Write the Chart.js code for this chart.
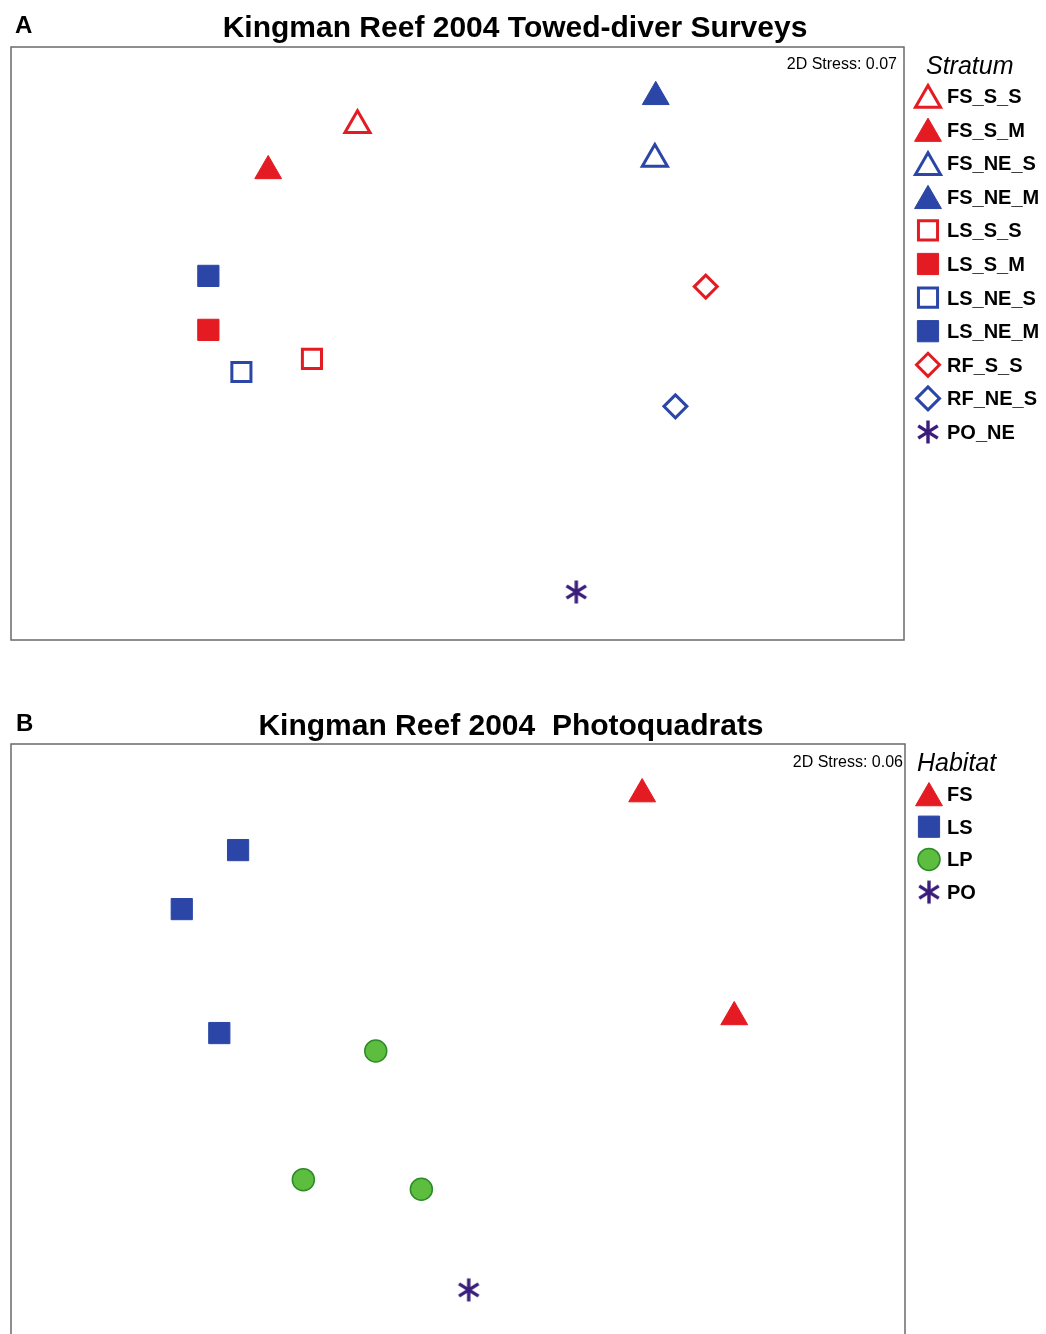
<!DOCTYPE html>
<html>
<head>
<meta charset="utf-8">
<title>Kingman Reef 2004 nMDS ordinations</title>
<script src="https://cdn.jsdelivr.net/npm/chart.js@4/dist/chart.umd.min.js"></script>
<style>
  html, body { margin: 0; padding: 0; background: #fff; width: 1046px; height: 1334px; overflow: hidden; }
  #page { position: relative; width: 1046px; height: 1334px; overflow: hidden; }
  .panel { position: absolute; left: 0; width: 1046px; height: 660px; }
  #panelA { top: 0; }
  #panelB { top: 690px; }
</style>
</head>
<body>
<div id="page">
  <div class="panel" id="panelA"><canvas id="chartA" width="1046" height="660"></canvas></div>
  <div class="panel" id="panelB"><canvas id="chartB" width="1046" height="660"></canvas></div>
</div>
<script>
// ---- Panel A: towed-diver surveys, one point per stratum (nMDS axis 1 / axis 2) ----
const strataA = ['FS_S_S', 'FS_S_M', 'FS_NE_S', 'FS_NE_M', 'LS_S_S', 'LS_S_M', 'LS_NE_S', 'LS_NE_M', 'RF_S_S', 'RF_NE_S', 'PO_NE'];
const mds1A   = [38.8, 28.8, 72.1, 72.2, 33.7, 22.1, 25.8, 22.1, 77.8, 74.4, 63.3];
const mds2A   = [86.8, 79.1, 81.1, 91.6, 47.4, 52.3, 45.2, 61.4, 59.6, 39.4,  8.1];

// ---- Panel B: photoquadrats, points grouped by habitat ----
const habitatsB = ['FS', 'LS', 'LP', 'PO'];
const siteHabitatB = ['FS', 'FS', 'LS', 'LS', 'LS', 'LP', 'LP', 'LP', 'PO'];
const mds1B = [70.6, 80.9, 25.4, 19.1, 23.3, 40.8, 32.7, 45.9, 51.2];
const mds2B = [91.6, 54.2, 82.2, 72.3, 51.5, 48.5, 26.9, 25.3,  8.4];

// ---- colours and marker shapes ----
const RED = '#e41b22';
const BLUE = '#2b46a6';
const PURPLE = '#3b1d7c';
const GREEN = '#5dbd3e';
const GREEN_EDGE = '#2f8a2a';

// six-armed asterisk used for the PO stratum / habitat
const asterisk = (() => {
  const c = document.createElement('canvas');
  c.width = 28; c.height = 28;
  const g = c.getContext('2d');
  g.strokeStyle = PURPLE;
  g.lineWidth = 3.4;
  const cx = 14, cy = 14, L = 11.5;
  [90, 32, -32].forEach(deg => {
    const r = deg * Math.PI / 180;
    g.beginPath();
    g.moveTo(cx - L * Math.cos(r), cy - L * Math.sin(r));
    g.lineTo(cx + L * Math.cos(r), cy + L * Math.sin(r));
    g.stroke();
  });
  return c;
})();

const openTri   = c => ({ pointStyle: 'triangle', radius: 14.5, bg: '#ffffff', border: c, bw: 3,   dy: 4 });
const fillTri   = c => ({ pointStyle: 'triangle', radius: 15.5, bg: c,         border: c, bw: 1,   dy: 4 });
const openRect  = c => ({ pointStyle: 'rect',     radius: 13.5, bg: '#ffffff', border: c, bw: 3,   dy: 0 });
const fillRect  = c => ({ pointStyle: 'rect',     radius: 15,   bg: c,         border: c, bw: 1,   dy: 0 });
const openDiam  = c => ({ pointStyle: 'rectRot',  radius: 11.5, bg: '#ffffff', border: c, bw: 3,   dy: 0 });
const star      = () => ({ pointStyle: asterisk,  radius: 12,   bg: PURPLE,    border: PURPLE, bw: 0, dy: 0 });
const dot       = () => ({ pointStyle: 'circle',  radius: 11,   bg: GREEN,     border: GREEN_EDGE, bw: 1.5, dy: 0 });

const stylesA = {
  FS_S_S: openTri(RED),  FS_S_M: fillTri(RED),  FS_NE_S: openTri(BLUE), FS_NE_M: fillTri(BLUE),
  LS_S_S: openRect(RED), LS_S_M: fillRect(RED), LS_NE_S: openRect(BLUE), LS_NE_M: fillRect(BLUE),
  RF_S_S: openDiam(RED), RF_NE_S: openDiam(BLUE), PO_NE: star()
};
const stylesB = { FS: fillTri(RED), LS: fillRect(BLUE), LP: dot(), PO: star() };

function makeDataset(label, points, st) {
  return {
    label,
    data: points,
    pointStyle: st.pointStyle,
    pointRadius: st.radius,
    pointHoverRadius: st.radius,
    pointBackgroundColor: st.bg,
    pointBorderColor: st.border,
    pointBorderWidth: st.bw,
    pointHoverBorderWidth: st.bw,
    legendDy: st.dy,
    showLine: false
  };
}

const datasetsA = strataA.map((s, i) => makeDataset(s, [{ x: mds1A[i], y: mds2A[i] }], stylesA[s]));
const datasetsB = habitatsB.map(h => {
  const pts = [];
  siteHabitatB.forEach((hb, i) => { if (hb === h) pts.push({ x: mds1B[i], y: mds2B[i] }); });
  return makeDataset(h, pts, stylesB[h]);
});

// Frame, panel letter, title, stress value and the legend column
const panelDecor = {
  id: 'panelDecor',
  afterDraw(chart, args, o) {
    const ctx = chart.ctx;
    const a = chart.chartArea;
    ctx.save();
    // plot frame
    ctx.strokeStyle = '#6a6a6a';
    ctx.lineWidth = 1.5;
    ctx.strokeRect(a.left, a.top, a.right - a.left, a.bottom - a.top);

    ctx.fillStyle = '#000';
    ctx.textBaseline = 'alphabetic';
    // panel letter
    ctx.font = 'bold 24px "Liberation Sans", Arial, sans-serif';
    ctx.textAlign = 'left';
    ctx.fillText(o.letter, o.letterX, o.letterY);
    // title
    ctx.font = 'bold 30px "Liberation Sans", Arial, sans-serif';
    ctx.textAlign = 'center';
    ctx.fillText(o.title, o.titleX, o.titleY);
    // stress
    ctx.font = '16px "Liberation Sans", Arial, sans-serif';
    ctx.textAlign = 'right';
    ctx.fillText(o.stress, o.stressX, o.stressY);
    // legend heading
    ctx.font = 'italic 25px "Liberation Sans", Arial, sans-serif';
    ctx.textAlign = 'left';
    ctx.fillText(o.legendTitle, o.legendTitleX, o.legendTitleY);
    // legend entries
    ctx.font = 'bold 20px "Liberation Sans", Arial, sans-serif';
    chart.data.datasets.forEach((ds, i) => {
      const y = o.itemY0 + i * o.itemStep;
      ctx.save();
      ctx.fillStyle = ds.pointBackgroundColor;
      ctx.strokeStyle = ds.pointBorderColor;
      ctx.lineWidth = ds.pointBorderWidth;
      Chart.helpers.drawPoint(ctx, {
        pointStyle: ds.pointStyle, radius: ds.pointRadius,
        borderWidth: ds.pointBorderWidth, rotation: 0
      }, o.markerX, y + ds.legendDy);
      ctx.restore();
      ctx.fillStyle = '#000';
      ctx.fillText(ds.label, o.textX, y + 7);
    });
    ctx.restore();
  }
};

function makeChart(id, datasets, padding, decor) {
  return new Chart(document.getElementById(id), {
    type: 'scatter',
    data: { datasets },
    options: {
      responsive: false,
      animation: false,
      events: [],
      layout: { padding, autoPadding: false },
      scales: {
        x: { type: 'linear', min: 0, max: 100, display: false },
        y: { type: 'linear', min: 0, max: 100, display: false }
      },
      plugins: {
        legend: { display: false },
        title: { display: false },
        tooltip: { enabled: false },
        panelDecor: decor
      }
    },
    plugins: [panelDecor]
  });
}

makeChart('chartA', datasetsA, { left: 11, right: 142, top: 47, bottom: 20 }, {
  letter: 'A', letterX: 15, letterY: 33,
  title: 'Kingman Reef 2004 Towed-diver Surveys', titleX: 515, titleY: 37,
  stress: '2D Stress: 0.07', stressX: 897, stressY: 69,
  legendTitle: 'Stratum', legendTitleX: 926, legendTitleY: 74,
  itemY0: 96, itemStep: 33.6, markerX: 928, textX: 947
});

makeChart('chartB', datasetsB, { left: 11, right: 141, top: 54, bottom: 10 }, {
  letter: 'B', letterX: 16, letterY: 41,
  title: 'Kingman Reef 2004  Photoquadrats', titleX: 511, titleY: 45,
  stress: '2D Stress: 0.06', stressX: 903, stressY: 77,
  legendTitle: 'Habitat', legendTitleX: 917, legendTitleY: 81,
  itemY0: 104, itemStep: 32.7, markerX: 929, textX: 947
});
</script>
</body>
</html>
